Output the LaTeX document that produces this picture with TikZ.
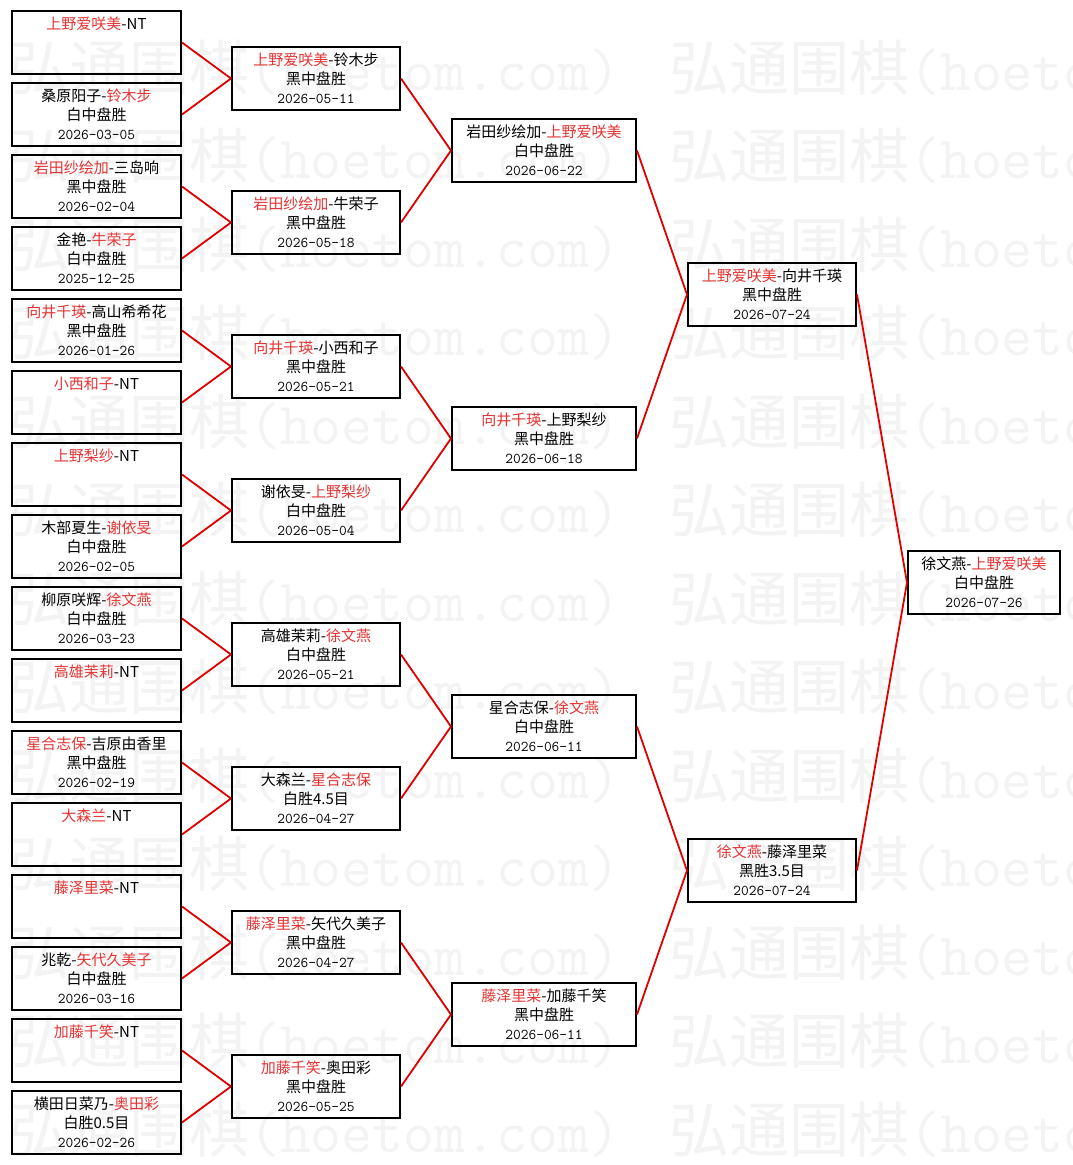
\documentclass[tikz,border=0pt]{standalone}
\usepackage{fontspec}
\setmainfont{Noto Sans CJK SC}
\usepackage{xcolor}
\newcommand{\winner}[1]{\textcolor{namered}{#1}}

\begin{document}
\begin{tikzpicture}[x=1pt,y=-1pt,
  game/.style={draw=black,line width=2pt,rectangle,minimum height=63,inner sep=0pt,align=center,font=\fontsize{15}{19}\selectfont},
  wmark/.style={anchor=base west,inner sep=0pt,text=wmgray,font=\fontsize{60}{60}\selectfont},
  link/.style={draw=linkred,line width=1.8pt}]
\definecolor{namered}{HTML}{E53333}
\definecolor{linkred}{HTML}{E00000}
\definecolor{wmgray}{HTML}{F3F3F3}
\useasboundingbox[fill=white] (0,0) rectangle (1072,1165);
\foreach \k in {0,...,12}
  { \node [wmark] (wma\k) at (9,90+88.5*\k) {弘通围棋{\ttfamily(hoetom.com)}};
    \node [wmark] (wmb\k) at (669,90+88.5*\k) {弘通围棋{\ttfamily(hoetom.com)}};}
\foreach \pair/\score/\when [count=\i from 0] in {
  \winner{上野爱咲美}-NT/~/~,
  桑原阳子-\winner{铃木步}/白中盘胜/2026-03-05,
  \winner{岩田纱绘加}-三岛响/黑中盘胜/2026-02-04,
  金艳-\winner{牛荣子}/白中盘胜/2025-12-25,
  \winner{向井千瑛}-高山希希花/黑中盘胜/2026-01-26,
  \winner{小西和子}-NT/~/~,
  \winner{上野梨纱}-NT/~/~,
  木部夏生-\winner{谢依旻}/白中盘胜/2026-02-05,
  柳原咲辉-\winner{徐文燕}/白中盘胜/2026-03-23,
  \winner{高雄茉莉}-NT/~/~,
  \winner{星合志保}-吉原由香里/黑中盘胜/2026-02-19,
  \winner{大森兰}-NT/~/~,
  \winner{藤泽里菜}-NT/~/~,
  兆乾-\winner{矢代久美子}/白中盘胜/2026-03-16,
  \winner{加藤千笑}-NT/~/~,
  横田日菜乃-\winner{奥田彩}/白胜0.5目/2026-02-26}
  {  \node [game,minimum width=169] (ra\i) at (96.5,42.5+72*\i) {\pair\\\score\\\texttt{\when}};}
\foreach \pair/\score/\when [count=\i from 0] in {
  \winner{上野爱咲美}-铃木步/黑中盘胜/2026-05-11,
  \winner{岩田纱绘加}-牛荣子/黑中盘胜/2026-05-18,
  \winner{向井千瑛}-小西和子/黑中盘胜/2026-05-21,
  谢依旻-\winner{上野梨纱}/白中盘胜/2026-05-04,
  高雄茉莉-\winner{徐文燕}/白中盘胜/2026-05-21,
  大森兰-\winner{星合志保}/白胜4.5目/2026-04-27,
  \winner{藤泽里菜}-矢代久美子/黑中盘胜/2026-04-27,
  \winner{加藤千笑}-奥田彩/黑中盘胜/2026-05-25}
  {  \node [game,minimum width=168] (rb\i) at (316,78.5+144*\i) {\pair\\\score\\\texttt{\when}};}
\foreach \pair/\score/\when [count=\i from 0] in {
  岩田纱绘加-\winner{上野爱咲美}/白中盘胜/2026-06-22,
  \winner{向井千瑛}-上野梨纱/黑中盘胜/2026-06-18,
  星合志保-\winner{徐文燕}/白中盘胜/2026-06-11,
  \winner{藤泽里菜}-加藤千笑/黑中盘胜/2026-06-11}
  {  \node [game,minimum width=184] (rc\i) at (544,150.5+288*\i) {\pair\\\score\\\texttt{\when}};}
\foreach \pair/\score/\when [count=\i from 0] in {
  \winner{上野爱咲美}-向井千瑛/黑中盘胜/2026-07-24,
  \winner{徐文燕}-藤泽里菜/黑胜3.5目/2026-07-24}
  {  \node [game,minimum width=168] (rd\i) at (772,294.5+576*\i) {\pair\\\score\\\texttt{\when}};}
\node [game,minimum width=152] (final) at (984,582.5) {徐文燕-\winner{上野爱咲美}\\白中盘胜\\\texttt{2026-07-26}};
\foreach \c [evaluate=\c as \p using int(\c/2)] in {0,...,15}
  {  \draw [link] (ra\c.east) -- (rb\p.west);}
\foreach \c [evaluate=\c as \p using int(\c/2)] in {0,...,7}
  {  \draw [link] (rb\c.east) -- (rc\p.west);}
\foreach \c [evaluate=\c as \p using int(\c/2)] in {0,...,3}
  {  \draw [link] (rc\c.east) -- (rd\p.west);}
\foreach \c in {0,1}
  {  \draw [link] (rd\c.east) -- (final.west);}
\end{tikzpicture}
\end{document}
